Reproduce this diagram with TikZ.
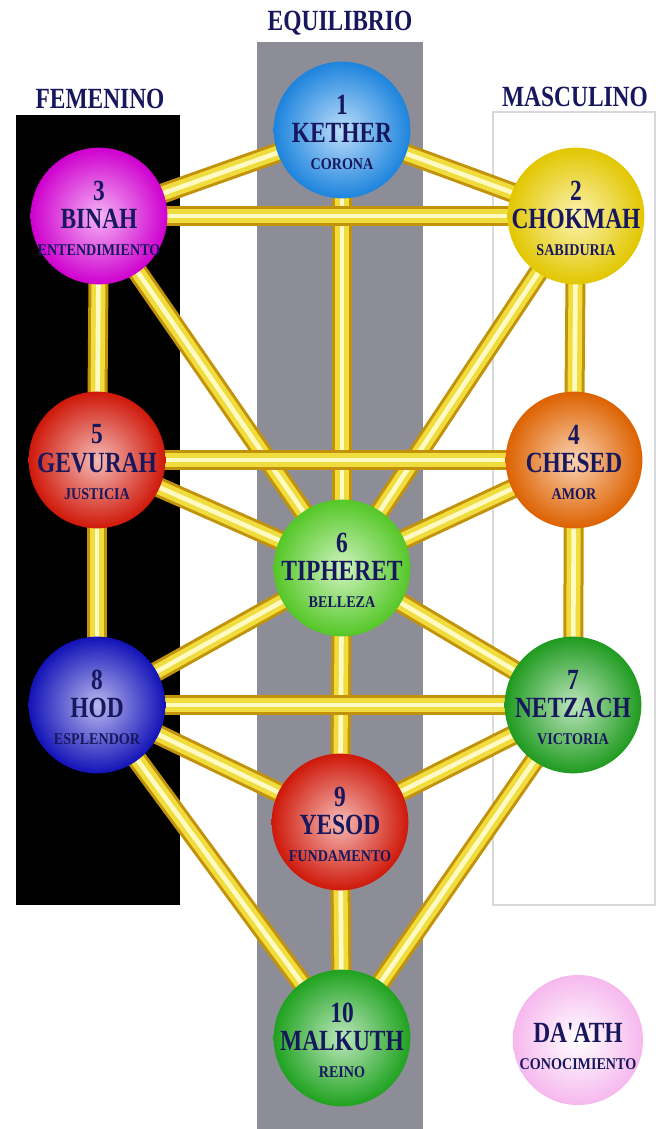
\documentclass[tikz,border=0pt]{standalone}
\usepackage{fontspec}
\setmainfont{Liberation Serif}
\newfontfamily\sefira[FakeStretch=0.8]{Liberation Serif}
\newfontfamily\sefirasub[FakeStretch=0.86]{Liberation Serif}
\usetikzlibrary{positioning}
\definecolor{tinta}{HTML}{17175E}
\definecolor{gris}{HTML}{8D8D98}
\definecolor{oro}{HTML}{C2920A}
\definecolor{amarillo}{HTML}{F0DC3C}
\definecolor{brillo}{HTML}{FFF9C4}
\definecolor{cKether}{HTML}{1F8FF0}
\definecolor{cChokmah}{HTML}{F5D800}
\definecolor{cBinah}{HTML}{E000E0}
\definecolor{cChesed}{HTML}{F06A00}
\definecolor{cGevurah}{HTML}{E01A0A}
\definecolor{cTiphereth}{HTML}{5CD82A}
\definecolor{cNetzach}{HTML}{22A822}
\definecolor{cHod}{HTML}{1414C8}
\definecolor{cYesod}{HTML}{E01A0A}
\definecolor{cMalkuth}{HTML}{22B022}
\definecolor{cDaath}{HTML}{F6B8EE}

\begin{document}
\begin{tikzpicture}[x=0.03cm,y=-0.03cm,
    esfera/.style={circle,inner sep=0pt,minimum size=4.1cm,inner color=#1!30!white,outer color=#1!92!black},
    numero/.style={inner sep=0pt,text=tinta,font=\sefira\bfseries\fontsize{25}{25}\selectfont},
    nombre/.style={inner sep=0pt,text=tinta,font=\sefira\bfseries\fontsize{25}{25}\selectfont},
    virtud/.style={inner sep=0pt,text=tinta,font=\sefirasub\bfseries\fontsize{14}{14}\selectfont},
    titulo/.style={inner sep=1pt,fill=white,text=tinta,font=\sefira\bfseries\fontsize{25}{25}\selectfont}]
    \useasboundingbox (0,0) rectangle (656,1129);
    \fill[white] (0,0) rectangle (656,1129);
    % columnas
    \fill[black] (16,115) rectangle (180,905);
    \fill[gris] (257,42) rectangle (423,1129);
    \draw[gray!30,line width=1pt] (493,112) rectangle (655,905);
    \node[titulo] (fem) at (100,99) {FEMENINO};
    \node[titulo] (equ) at (340,23) {EQUILIBRIO};
    \node[titulo] (mas) at (575,97) {MASCULINO};
    % centros de las sefirot
    \coordinate (s1) at (342,130);
    \coordinate (s2) at (576,216);
    \coordinate (s3) at (99,216);
    \coordinate (s4) at (574,460);
    \coordinate (s5) at (97,460);
    \coordinate (s6) at (342,568);
    \coordinate (s7) at (573,705);
    \coordinate (s8) at (97,705);
    \coordinate (s9) at (340,822);
    \coordinate (s10) at (342,1038);
    % senderos
    \foreach \a/\b in {1/2,1/3,1/6,2/3,2/4,3/5,2/6,3/6,4/5,4/6,5/6,4/7,5/8,6/7,6/8,6/9,7/8,7/9,8/9,7/10,8/10,9/10}{
      \draw[oro,line width=0.6cm] (s\a) -- (s\b);
      \draw[amarillo,line width=0.42cm] (s\a) -- (s\b);
      \draw[brillo,line width=0.14cm] (s\a) -- (s\b);
    }
    % sefirot
    \foreach \i/\n/\v/\c in {1/KETHER/CORONA/cKether,2/CHOKMAH/SABIDURIA/cChokmah,3/BINAH/ENTENDIMIENTO/cBinah,
      4/CHESED/AMOR/cChesed,5/GEVURAH/JUSTICIA/cGevurah,6/TIPHERET/BELLEZA/cTiphereth,
      7/NETZACH/VICTORIA/cNetzach,8/HOD/ESPLENDOR/cHod,9/YESOD/FUNDAMENTO/cYesod,10/MALKUTH/REINO/cMalkuth}{
      \node[esfera=\c] (e\i) at (s\i) {};
      \node[nombre] (t\i) at ([yshift=-0.1cm]e\i.center) {\n};
      \node[numero,above=0.26cm of t\i] (n\i) {\i};
      \node[virtud,below=0.45cm of t\i] (v\i) {\v};
    }
    \node[esfera=cDaath,minimum size=3.9cm,inner color=white,outer color=cDaath] (ed) at (578,1040) {};
    \node[nombre] (td) at ([yshift=0.2cm]ed.center) {DA'ATH};
    \node[virtud,below=0.45cm of td] (vd) {CONOCIMIENTO};
\end{tikzpicture}
\end{document}
